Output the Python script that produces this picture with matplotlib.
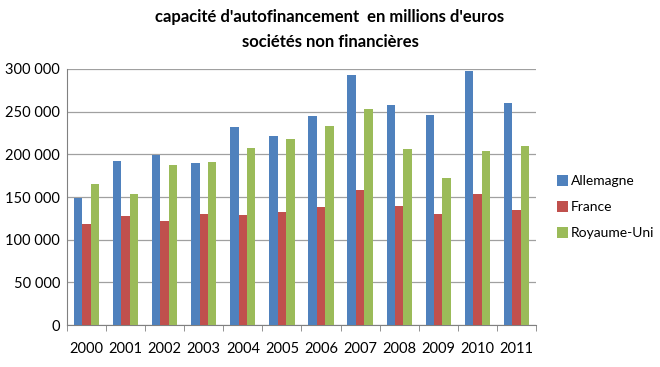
import matplotlib.pyplot as plt
import numpy as np

plt.rcParams['font.family'] = ['Lato', 'DejaVu Sans']

years = ["2000", "2001", "2002", "2003", "2004", "2005",
         "2006", "2007", "2008", "2009", "2010", "2011"]
allemagne = [149500, 192300, 199300, 190000, 232100, 221600,
             245000, 293000, 258300, 246600, 298000, 260600]
france = [119000, 128300, 121700, 130600, 129500, 132600,
          138100, 158700, 139300, 130600, 153300, 135000]
royaume_uni = [165000, 153300, 188000, 191200, 207500, 217700,
               233300, 252800, 206400, 172800, 204400, 209500]

series = [("Allemagne", allemagne, "#4F81BD"),
          ("France", france, "#C0504D"),
          ("Royaume-Uni", royaume_uni, "#9BBB59")]

fig = plt.figure(figsize=(6.6, 3.67), dpi=100)
ax = fig.add_axes([0.1015, 0.114, 0.7105, 0.698])

x = np.arange(len(years))
w = 0.215
for i, (name, vals, col) in enumerate(series):
	ax.bar(x + (i - 1) * w, vals, w, color=col, label=name, zorder=3)

ax.set_xlim(-0.5, len(years) - 0.5)
ax.set_ylim(0, 300000)
ax.set_yticks(range(0, 300001, 50000))
ax.set_yticklabels(["{:,}".format(v).replace(",", " ") for v in range(0, 300001, 50000)])
ax.yaxis.grid(True, color="#a0a0a0", linewidth=0.9, zorder=0)
ax.tick_params(axis="y", length=0, labelsize=10.5, pad=5)

ax.set_xticks(x)
ax.set_xticklabels(years)
ax.tick_params(axis="x", length=0, labelsize=10.5, pad=12)
ax.set_xticks(np.arange(-0.5, len(years), 1), minor=True)
ax.tick_params(axis="x", which="minor", length=4, color="#808080")

for s in ["top", "right"]:
	ax.spines[s].set_visible(False)
ax.spines["left"].set_color("#808080")
ax.spines["bottom"].set_color("#808080")

fig.text(0.5, 0.953, "capacité d'autofinancement  en millions d'euros", ha="center",
	va="center", fontsize=12, fontweight="bold")
fig.text(0.5, 0.885, "sociétés non financières", ha="center", va="center",
	fontsize=12, fontweight="bold")

ax.legend(loc="center left", bbox_to_anchor=(1.015, 0.46), frameon=False, fontsize=10,
	handlelength=0.8, handleheight=0.8, handletextpad=0.2, labelspacing=1.0,
	borderaxespad=0.6)

fig.savefig("out.png", dpi=100)
